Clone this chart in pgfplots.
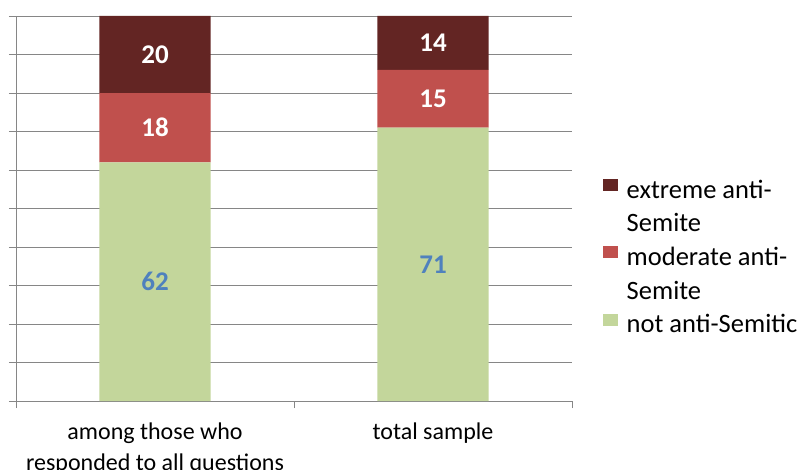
\documentclass[border=0pt]{standalone}
\usepackage{fontspec}
\setmainfont{Carlito}
\usepackage{pgfplots}
\usepackage{pgfplotstable}
\pgfplotsset{compat=1.18}
\definecolor{cext}{HTML}{632523}
\definecolor{cmod}{HTML}{C0504D}
\definecolor{cnot}{HTML}{C3D69B}
\definecolor{cblue}{HTML}{4F81BD}
\definecolor{cgrid}{HTML}{868686}

\pgfplotstableread{
x v
0 62
1 71
}\notanti
\pgfplotstableread{
x v
0 18
1 15
}\moderate
\pgfplotstableread{
x v
0 20
1 14
}\extreme

\begin{document}
\begin{tikzpicture}
\begin{axis}[
  at={(0pt,0pt)}, anchor=south west,
  width=556pt, height=385pt, scale only axis,
  /pgf/number format/assume math mode=true,
  ybar stacked, bar width=0.4,
  xmin=-0.5, xmax=1.5, ymin=0, ymax=100,
  axis x line*=bottom, axis y line*=left,
  axis line style={cgrid, line width=0.8pt},
  ytick={0,10,...,100}, yticklabels={},
  ymajorgrids, grid style={cgrid, line width=0.8pt},
  xtick={-0.5,0.5,1.5}, xticklabels={},
  tick align=outside, major tick length=7pt,
  tick style={cgrid, line width=0.8pt},
  extra x ticks={0,1},
  extra x tick labels={{among those who\\responded to all questions},{total sample}},
  extra x tick style={major tick length=0pt,
    xticklabel style={align=center, font=\fontsize{24}{31}\selectfont, text=black, inner sep=0pt, yshift=-22pt}},
  nodes near coords,
  nodes near coords align={center},
  point meta=explicit,
  every node near coord/.append style={anchor=center,
    font=\fontsize{27}{32}\selectfont\bfseries},
  legend style={at={(1.056,0.373)}, anchor=west, draw=none, fill=none,
    inner sep=0pt, font=\fontsize{26.5}{32}\selectfont,
    nodes={inner sep=0pt, text height=25pt, text depth=8.7pt},
    row sep=0pt, /tikz/column sep=9pt},
  legend cell align=left,
]
\addplot[fill=cnot, draw=none, forget plot, every node near coord/.append style={text=cblue}]
  table[x=x, y=v, meta=v] {\notanti};
\addplot[fill=cmod, draw=none, forget plot, every node near coord/.append style={text=white}]
  table[x=x, y=v, meta=v] {\moderate};
\addplot[fill=cext, draw=none, forget plot, every node near coord/.append style={text=white}]
  table[x=x, y=v, meta=v] {\extreme};

\addlegendimage{legend image code/.code={\fill[cext] (0pt,0pt) rectangle (14pt,11pt);}}
\addlegendentry{extreme anti-}
\addlegendimage{legend image code/.code={\path (0pt,0pt) rectangle (14pt,11pt);}, draw=none, fill=none}
\addlegendentry{Semite}
\addlegendimage{legend image code/.code={\fill[cmod] (0pt,0pt) rectangle (14pt,11pt);}}
\addlegendentry{moderate anti-}
\addlegendimage{legend image code/.code={\path (0pt,0pt) rectangle (14pt,11pt);}, draw=none, fill=none}
\addlegendentry{Semite}
\addlegendimage{legend image code/.code={\fill[cnot] (0pt,0pt) rectangle (14pt,11pt);}}
\addlegendentry{not anti-Semitic}
\end{axis}
\pgfresetboundingbox
\path[use as bounding box] (-16pt,-68pt) rectangle (786pt,401pt);
\end{tikzpicture}
\end{document}
